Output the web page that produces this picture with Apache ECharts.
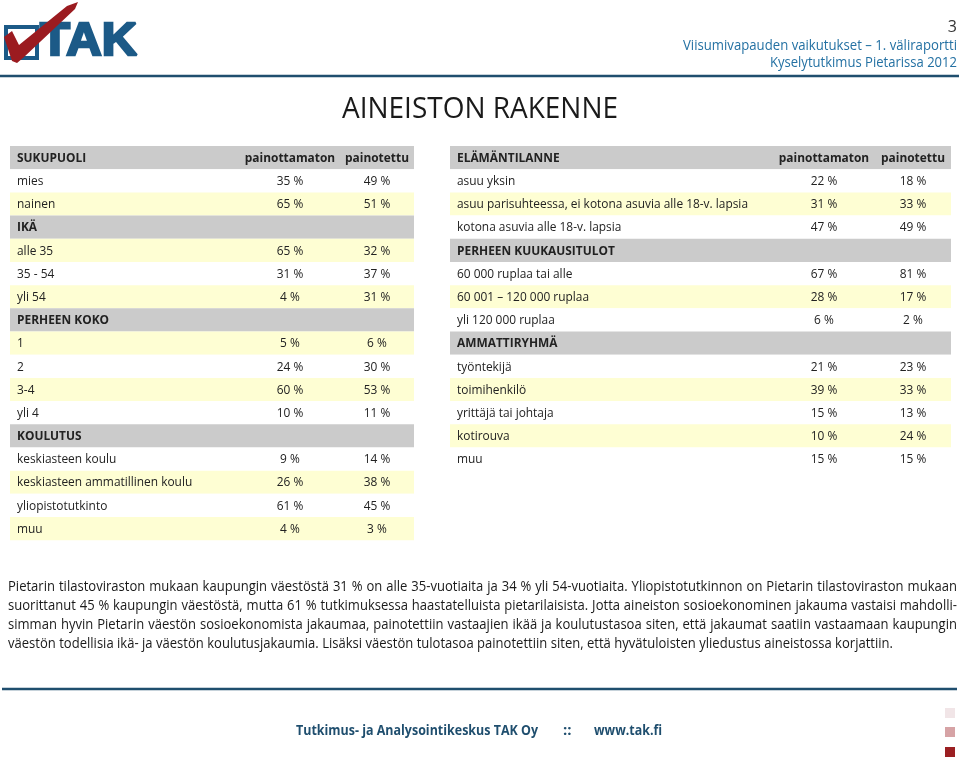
<!DOCTYPE html>
<html>
<head>
<meta charset="utf-8">
<script src="https://cdn.jsdelivr.net/npm/echarts@6/dist/echarts.min.js"></script>
<style>
html,body{margin:0;padding:0;background:#fff;}
#chart{width:959px;height:760px;}
</style>
</head>
<body>
<div id="chart"></div>
<script>
// ---------- DATA ----------
const columnHeaders = ['painottamaton', 'painotettu'];

const leftLabels = ['SUKUPUOLI', 'mies', 'nainen', 'IKÄ', 'alle 35', '35 - 54', 'yli 54', 'PERHEEN KOKO',
  '1', '2', '3-4', 'yli 4', 'KOULUTUS', 'keskiasteen koulu', 'keskiasteen ammatillinen koulu',
  'yliopistotutkinto', 'muu'];
const leftUnweighted = [null, 35, 65, null, 65, 31, 4, null, 5, 24, 60, 10, null, 9, 26, 61, 4];
const leftWeighted   = [null, 49, 51, null, 32, 37, 31, null, 6, 30, 53, 11, null, 14, 38, 45, 3];

const rightLabels = ['ELÄMÄNTILANNE', 'asuu yksin', 'asuu parisuhteessa, ei kotona asuvia alle 18-v. lapsia',
  'kotona asuvia alle 18-v. lapsia', 'PERHEEN KUUKAUSITULOT', '60 000 ruplaa tai alle',
  '60 001 – 120 000 ruplaa', 'yli 120 000 ruplaa', 'AMMATTIRYHMÄ', 'työntekijä', 'toimihenkilö',
  'yrittäjä tai johtaja', 'kotirouva', 'muu'];
const rightUnweighted = [null, 22, 31, 47, null, 67, 28, 6, null, 21, 39, 15, 10, 15];
const rightWeighted   = [null, 18, 33, 49, null, 81, 17, 2, null, 23, 33, 13, 24, 15];

const titleText = 'AINEISTON RAKENNE';
const pageNumber = '3';
const headerLines = ['Viisumivapauden vaikutukset – 1. väliraportti', 'Kyselytutkimus Pietarissa 2012'];
const paragraphLines = [
  'Pietarin tilastoviraston mukaan kaupungin väestöstä 31 % on alle 35-vuotiaita ja 34 % yli 54-vuotiaita. Yliopistotutkinnon on Pietarin tilastoviraston mukaan',
  'suorittanut 45 % kaupungin väestöstä, mutta 61 % tutkimuksessa haastatelluista pietarilaisista. Jotta aineiston sosioekonominen jakauma vastaisi mahdolli-',
  'simman hyvin Pietarin väestön sosioekonomista jakaumaa, painotettiin vastaajien ikää ja koulutustasoa siten, että jakaumat saatiin vastaamaan kaupungin',
  'väestön todellisia ikä- ja väestön koulutusjakaumia. Lisäksi väestön tulotasoa painotettiin siten, että hyvätuloisten yliedustus aineistossa korjattiin.'
];
const footerParts = ['Tutkimus- ja Analysointikeskus TAK Oy', '::', 'www.tak.fi'];

// ---------- STYLE / LAYOUT ----------
const FONT = '"Open Sans", "Noto Sans", sans-serif';
const GRAY = '#cbcbcb', YELLOW = '#fefed3', WHITE = '#ffffff';
const TXT = '#222222';
const BLUE = '#1f4e6e';
const RH = 23.19;

const ctx = document.createElement('canvas').getContext('2d');
function tw(text, font) { ctx.font = font; return ctx.measureText(text).width; }

const tableFont = '13px ' + FONT;
const tableBold = 'bold 13px ' + FONT;
const tableSX = 291 / tw(rightLabels[2], tableFont);

function rowFill(i, isHeader) {
  if (isHeader) return GRAY;
  return i % 2 === 1 ? WHITE : YELLOW;
}

function makeRender(labels, unw, wei, totalW, colA, colB) {
  return function (params, api) {
    const i = params.dataIndex;
    const isHeader = unw[i] == null;
    const c = api.coord([0, i]);
    const h = api.size([0, 1])[1];
    const x0 = c[0];
    const x1 = api.coord([totalW, i])[0];
    const children = [{
      type: 'rect',
      shape: { x: x0, y: c[1] - h / 2, width: x1 - x0, height: h },
      style: { fill: rowFill(i, isHeader) }
    }, {
      type: 'text', x: x0 + 7, y: c[1] + 0.5, scaleX: tableSX,
      style: { text: labels[i], fill: TXT, font: isHeader ? tableBold : tableFont,
        textAlign: 'left', textVerticalAlign: 'middle' }
    }];
    const xa = api.coord([colA, i])[0], xb = api.coord([colB, i])[0];
    if (i === 0) {
      children.push({ type: 'text', x: xa, y: c[1] + 0.5, scaleX: tableSX,
        style: { text: columnHeaders[0], fill: TXT, font: tableBold, textAlign: 'center', textVerticalAlign: 'middle' } });
      children.push({ type: 'text', x: xb, y: c[1] + 0.5, scaleX: tableSX,
        style: { text: columnHeaders[1], fill: TXT, font: tableBold, textAlign: 'center', textVerticalAlign: 'middle' } });
    }
    if (!isHeader) {
      children.push({ type: 'text', x: xa, y: c[1] + 0.5, scaleX: tableSX,
        style: { text: unw[i] + ' %', fill: TXT, font: tableFont, textAlign: 'center', textVerticalAlign: 'middle' } });
      children.push({ type: 'text', x: xb, y: c[1] + 0.5, scaleX: tableSX,
        style: { text: wei[i] + ' %', fill: TXT, font: tableFont, textAlign: 'center', textVerticalAlign: 'middle' } });
    }
    return { type: 'group', children };
  };
}

// ---------- GRAPHIC ELEMENTS ----------
const graphics = [];

// Logo
graphics.push({ type: 'rect', shape: { x: 6, y: 27, width: 31, height: 31 },
  style: { fill: 'none', stroke: '#1c5a87', lineWidth: 4 } });
const takFont = 'bold 47px "Liberation Sans", Arial, sans-serif';
graphics.push({ type: 'text', x: 40, y: 42, scaleX: 97 / tw('TAK', takFont),
  style: { text: 'TAK', font: takFont, fill: '#1c5a87', stroke: '#1c5a87', lineWidth: 2.5,
    textAlign: 'left', textVerticalAlign: 'middle' } });
graphics.push({ type: 'polygon',
  shape: { points: [[4, 37], [12, 31], [19, 45], [67, 6], [78, 2], [75, 9], [23, 58], [17, 63], [12, 61]] },
  style: { fill: '#9b1b20' } });

// Page header (right)
const hdrFont = '15px ' + FONT;
graphics.push({ type: 'text', x: 957, y: 27,
  style: { text: pageNumber, font: '16px ' + FONT, fill: '#333333', textAlign: 'right', textVerticalAlign: 'middle' } });
graphics.push({ type: 'text', x: 957, y: 46, scaleX: 274 / tw(headerLines[0], hdrFont),
  style: { text: headerLines[0], font: hdrFont, fill: '#2471a3', textAlign: 'right', textVerticalAlign: 'middle' } });
graphics.push({ type: 'text', x: 957, y: 63, scaleX: 187 / tw(headerLines[1], hdrFont),
  style: { text: headerLines[1], font: hdrFont, fill: '#2471a3', textAlign: 'right', textVerticalAlign: 'middle' } });

// Rules
graphics.push({ type: 'line', shape: { x1: 0, y1: 76, x2: 959, y2: 76 }, style: { stroke: BLUE, lineWidth: 2.5 } });
graphics.push({ type: 'line', shape: { x1: 2, y1: 689, x2: 957, y2: 689 }, style: { stroke: BLUE, lineWidth: 2.5 } });

// Title
const titleFont = '30px ' + FONT;
graphics.push({ type: 'text', x: 480, y: 109, scaleX: 276 / tw(titleText, titleFont),
  style: { text: titleText, font: titleFont, fill: '#1a1a1a', textAlign: 'center', textVerticalAlign: 'middle' } });

// Paragraph (justified)
const pFont = '14px ' + FONT;
const pLastW = tw(paragraphLines[3], pFont);
const pSX = 885 / pLastW;
const pChildren = [];
const pTops = [587, 606, 625, 644];
paragraphLines.forEach((line, li) => {
  if (li === paragraphLines.length - 1) {
    pChildren.push({ type: 'text', x: 0, y: pTops[li],
      style: { text: line, font: pFont, fill: '#1a1a1a', textAlign: 'left', textVerticalAlign: 'middle' } });
    return;
  }
  const words = line.split(' ');
  const ws = words.map(w => tw(w, pFont));
  const sum = ws.reduce((a, b) => a + b, 0);
  const target = 949 / pSX;
  const gap = (target - sum) / (words.length - 1);
  let x = 0;
  words.forEach((w, wi) => {
    pChildren.push({ type: 'text', x: x, y: pTops[li],
      style: { text: w, font: pFont, fill: '#1a1a1a', textAlign: 'left', textVerticalAlign: 'middle' } });
    x += ws[wi] + gap;
  });
});
graphics.push({ type: 'group', x: 8, y: 0, scaleX: pSX, children: pChildren });

// Footer
const fFont = 'bold 15px ' + FONT;
graphics.push({ type: 'text', x: 296, y: 731, scaleX: 242 / tw(footerParts[0], fFont),
  style: { text: footerParts[0], font: fFont, fill: BLUE, textAlign: 'left', textVerticalAlign: 'middle' } });
graphics.push({ type: 'text', x: 563, y: 731,
  style: { text: footerParts[1], font: fFont, fill: BLUE, textAlign: 'left', textVerticalAlign: 'middle' } });
graphics.push({ type: 'text', x: 594, y: 731, scaleX: 68 / tw(footerParts[2], fFont),
  style: { text: footerParts[2], font: fFont, fill: BLUE, textAlign: 'left', textVerticalAlign: 'middle' } });

// Decorative squares
[['#f1e5e7', 708], ['#d6a3a5', 727], ['#9b1f22', 747]].forEach(([c, y]) => {
  graphics.push({ type: 'rect', shape: { x: 945, y: y, width: 10, height: 10 }, style: { fill: c } });
});

// ---------- CHART ----------
const chart = echarts.init(document.getElementById('chart'), null, { renderer: 'canvas' });
const option = {
  animation: false,
  backgroundColor: '#ffffff',
  grid: [
    { left: 10, top: 146, width: 404, height: leftLabels.length * RH },
    { left: 450, top: 146, width: 501, height: rightLabels.length * RH }
  ],
  xAxis: [
    { gridIndex: 0, type: 'value', min: 0, max: 404, show: false },
    { gridIndex: 1, type: 'value', min: 0, max: 501, show: false }
  ],
  yAxis: [
    { gridIndex: 0, type: 'category', data: leftLabels, inverse: true, show: false },
    { gridIndex: 1, type: 'category', data: rightLabels, inverse: true, show: false }
  ],
  series: [
    { type: 'custom', xAxisIndex: 0, yAxisIndex: 0, silent: true,
      data: leftLabels.map((l, i) => [0, i]),
      renderItem: makeRender(leftLabels, leftUnweighted, leftWeighted, 404, 280, 367) },
    { type: 'custom', xAxisIndex: 1, yAxisIndex: 1, silent: true,
      data: rightLabels.map((l, i) => [0, i]),
      renderItem: makeRender(rightLabels, rightUnweighted, rightWeighted, 501, 374, 463) }
  ],
  graphic: { elements: graphics }
};
chart.setOption(option);
</script>
</body>
</html>
